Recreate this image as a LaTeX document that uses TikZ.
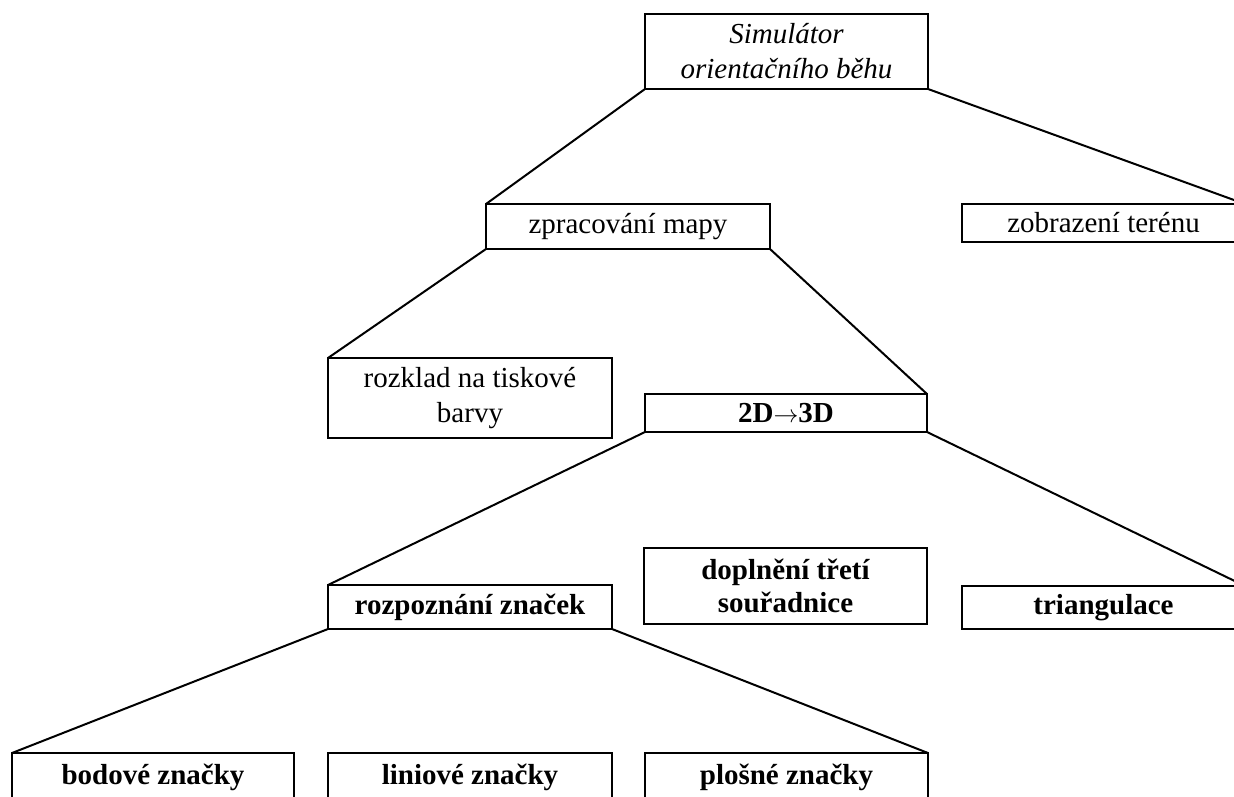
\documentclass[tikz,border=0pt]{standalone}
\usepackage{fontspec}
\setmainfont{Liberation Serif}
\begin{document}
\begin{tikzpicture}[x=1pt,y=-1pt,
  box/.style={draw=black,line width=2pt,outer sep=0pt,inner sep=0pt,fill=white,
    align=center,font=\fontsize{29pt}{34.5pt}\selectfont},
  boldbox/.style={box,font=\fontsize{29pt}{33pt}\selectfont\bfseries},
  link/.style={line width=2pt,line cap=round}]
\useasboundingbox (0,0) rectangle (1234,796);
\fill[white] (0,0) rectangle (1234,796);
\begin{scope}
\clip (0,0) rectangle (1234,796);
% nodes
\node[box,minimum width=283pt,minimum height=75pt,font=\fontsize{29pt}{35pt}\selectfont\itshape] (sim) at (786.5,51.5) {Simulátor\\orientačního běhu};
\node[box,minimum width=284pt,minimum height=45pt] (zpr) at (628,226.5) {zpracování mapy};
\node[box,minimum width=283pt,minimum height=38pt] (zob) at (1103.5,223) {zobrazení terénu};
\node[box,minimum width=284pt,minimum height=80pt] (roz) at (470,398) {rozklad na tiskové\\barvy};
\node[boldbox,minimum width=282pt,minimum height=38pt] (d23) at (786,413) {2D$\rightarrow$3D};
\node[boldbox,minimum width=283pt,minimum height=76pt] (dop) at (785.5,586) {doplnění třetí\\souřadnice};
\node[boldbox,minimum width=284pt,minimum height=44pt] (rozp) at (470,607) {rozpoznání značek};
\node[boldbox,minimum width=283pt,minimum height=43pt] (tri) at (1103.5,607.5) {triangulace};
\node[boldbox,minimum width=282pt,minimum height=46pt,text height=20pt,text depth=4pt] (bod) at (153,776) {bodové značky};
\node[boldbox,minimum width=284pt,minimum height=46pt,text height=20pt,text depth=4pt] (lin) at (470,776) {liniové značky};
\node[boldbox,minimum width=283pt,minimum height=46pt,text height=20pt,text depth=4pt] (plo) at (786.5,776) {plošné značky};
% connectors
\draw[link] (sim.south west) -- (zpr.north west);
\draw[link] (sim.south east) -- (zob.north east);
\draw[link] (zpr.south west) -- (roz.north west);
\draw[link] (zpr.south east) -- (d23.north east);
\draw[link] (d23.south west) -- (rozp.north west);
\draw[link] (d23.south east) -- (tri.north east);
\draw[link] (rozp.south west) -- (bod.north west);
\draw[link] (rozp.south east) -- (plo.north east);
\end{scope}
\end{tikzpicture}
\end{document}
